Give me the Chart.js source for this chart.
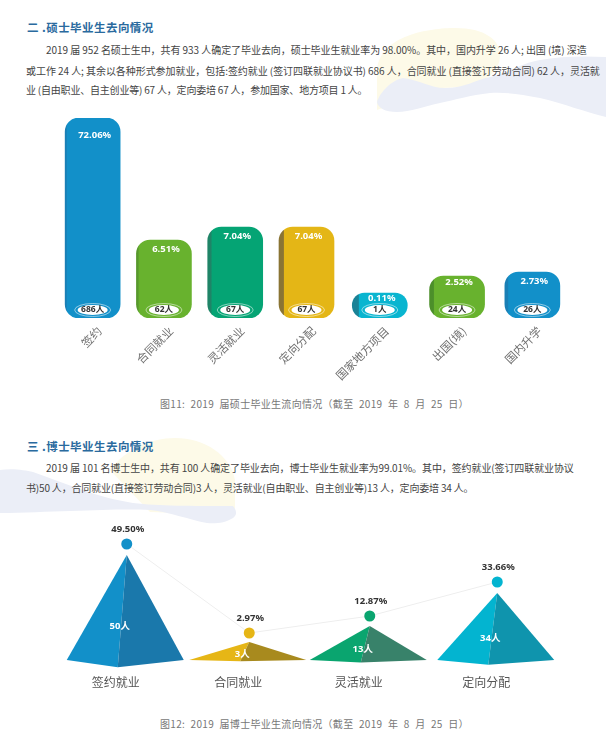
<!DOCTYPE html>
<html lang="zh">
<head>
<meta charset="utf-8">
<title>毕业生去向情况</title>
<script src="https://cdn.jsdelivr.net/npm/chart.js@4/dist/chart.umd.js"></script>
<style>
  html, body { margin: 0; padding: 0; background: #fff; }
  #page { position: relative; width: 606px; height: 749px; overflow: hidden;
          font-family: "Noto Sans CJK SC", "Noto Sans", sans-serif; }
  #page svg { position: absolute; left: 0; top: 0; }
  .t { position: absolute; white-space: nowrap; line-height: 20px; }
  .h { left: 27px; font-size: 11.5px; font-weight: 700; color: #2a6a9e; letter-spacing: .45px; }
  .p { font-size: 10px; color: #444; }
  .c { left: 160px; font-size: 10px; color: #777; letter-spacing: .3px; word-spacing: 3px; }
  canvas { position: absolute; left: 0; }
</style>
</head>
<body>
<div id="page">
  <svg width="606" height="749">
    <path d="M377 70 C380 35 430 28 455 28 C485 28 500 40 500 55 C500 75 480 88 440 88 L377 110 Z" fill="#fdfae8"/>
    <path d="M377 102 C380 92 392 80 403 78 C420 80 430 88 445 88 C465 88 475 80 490 77 C510 72 525 62 540 60 C560 56 585 56 606 57 L606 117 C585 112 565 104 540 98 C520 94 505 92 490 93 C470 95 455 100 440 103 C425 106 410 112 397 112 C385 112 378 108 377 102 Z" fill="#ebeef7"/>
    <path d="M110 470 C125 450 150 438 175 438 C205 438 230 455 235 480 L235 515 L150 512 Z" fill="#fdfae8"/>
    <path d="M0 470 C12 468 25 470 33 472 C50 478 65 484 83 490 C100 496 115 500 133 503 C160 506 190 506 233 506 C238 512 236 516 233 518 C225 523 215 524 207 523 C190 520 170 512 150 510 C120 508 60 512 0 513 Z" fill="#ebeef7"/>
  </svg>

  <div class="t h" style="top:17px">二 .硕士毕业生去向情况</div>
  <div class="t p" style="left:46px;top:40px;letter-spacing:-.06px">2019 届 952 名硕士生中，共有 933 人确定了毕业去向，硕士毕业生就业率为 98.00%。其中，国内升学 26 人; 出国 (境) 深造</div>
  <div class="t p" style="left:26px;top:61px;letter-spacing:-.06px">或工作 24 人; 其余以各种形式参加就业，包括:签约就业 (签订四联就业协议书) 686 人，合同就业 (直接签订劳动合同) 62 人，灵活就</div>
  <div class="t p" style="left:26px;top:80px;letter-spacing:-.2px">业 (自由职业、自主创业等) 67 人，定向委培 67 人，参加国家、地方项目 1 人。</div>
  <div class="t c" style="top:394px">图11:  2019 届硕士毕业生流向情况（截至 2019 年 8 月 25 日）</div>

  <div class="t h" style="top:436px">三 .博士毕业生去向情况</div>
  <div class="t p" style="left:46px;top:458px;letter-spacing:-.1px">2019 届 101 名博士生中，共有 100 人确定了毕业去向，博士毕业生就业率为99.01%。其中，签约就业(签订四联就业协议</div>
  <div class="t p" style="left:26px;top:478px;letter-spacing:-.17px">书)50 人，合同就业(直接签订劳动合同)3 人，灵活就业(自由职业、自主创业等)13 人，定向委培 34 人。</div>
  <div class="t c" style="top:714px">图12:  2019 届博士毕业生流向情况（截至 2019 年 8 月 25 日）</div>

  <canvas id="masterChart" width="606" height="280" style="top:110px"></canvas>
  <canvas id="phdChart" width="606" height="190" style="top:520px"></canvas>
</div>

<script>
// 硕士
const masterLabels = ['签约', '合同就业', '灵活就业', '定向分配', '国家地方项目', '出国(境)', '国内升学'];
const masterCounts = ['686人', '62人', '67人', '67人', '1人', '24人', '26人'];
const masterShares = ['72.06%', '6.51%', '7.04%', '7.04%', '0.11%', '2.52%', '2.73%'];
// the original bars are not to scale, so this is the height read off the picture
const masterBarHeights = [200, 78, 91, 91, 25, 42, 46];
const masterColors = ['#1290c9', '#68b22e', '#05a474', '#e4b616', '#09b5d0', '#68b22e', '#1290c9'];
const masterEdges = ['#1a7fb5', '#57982c', '#1f8467', '#8a7434', '#1a8296', '#4c8f2a', '#1a7fb5'];

// 博士
const phdLabels = ['签约就业', '合同就业', '灵活就业', '定向分配'];
const phdCounts = ['50人', '3人', '13人', '34人'];
const phdShares = ['49.50%', '2.97%', '12.87%', '33.66%'];
// same here, dot and pyramid heights as drawn
const phdDotHeights = [116, 27, 44, 78];
const phdPyramidHeights = [105, 18, 34, 67];
const phdColors = ['#1290c9', '#e6b616', '#0aa56f', '#03b4d0'];
const phdShades = ['#1a78ab', '#a88a1e', '#38826a', '#0f94ad'];

const LATIN = '"Noto Sans", "Noto Sans CJK SC", sans-serif';

// category axis whose slots can be moved a little, the original spacing is uneven
class NudgedCategory extends Chart.CategoryScale {
    getPixelForValue(value, index) {
        const px = super.getPixelForValue(value, index);
        const nudge = this.options.nudge || [];
        return px + (nudge[Math.round(value)] || 0);
    }
}
NudgedCategory.id = 'nudgedCategory';
NudgedCategory.defaults = Chart.CategoryScale.defaults;
Chart.register(NudgedCategory);

function drawText(c, text, x, y, font, color) {
    c.font = font;
    c.fillStyle = color;
    c.textAlign = 'center';
    c.textBaseline = 'middle';
    c.fillText(text, x, y);
}

const masterLabelsPlugin = {
    id: 'masterLabelsPlugin',
    afterDatasetsDraw(chart) {
        const c = chart.ctx;
        const bars = chart.getDatasetMeta(0).data;
        const drop = chart.options.plugins.masterLabelsPlugin.shareDrop;
        c.save();
        bars.forEach((bar, i) => {
            drawText(c, masterShares[i], bar.x + 2, bar.y + drop[i], 'bold 9.5px ' + LATIN, '#fff');
            const py = bar.base - 8;
            c.strokeStyle = 'rgba(255,255,255,.75)';
            c.lineWidth = 0.7;
            c.beginPath();
            c.ellipse(bar.x, py, 18, 6.5, 0, 0, Math.PI * 2);
            c.stroke();
            c.fillStyle = '#fff';
            c.beginPath();
            c.ellipse(bar.x, py, 15, 5, 0, 0, Math.PI * 2);
            c.fill();
            drawText(c, masterCounts[i], bar.x, py, 'bold 8.5px ' + LATIN, '#333');
        });
        c.restore();
    }
};

const pyramidPlugin = {
    id: 'pyramidPlugin',
    beforeDatasetsDraw(chart) {
        const c = chart.ctx;
        const xs = chart.scales.x;
        const ys = chart.scales.y;
        c.save();
        phdPyramidHeights.forEach((h, i) => {
            const x = xs.getPixelForValue(i);
            const top = ys.getPixelForValue(h);
            const base = ys.getPixelForValue(0);
            const frontY = base + h * 0.07;
            c.fillStyle = phdColors[i];
            c.beginPath();
            c.moveTo(x, top);
            c.lineTo(x - 60, base);
            c.lineTo(x - 9, frontY);
            c.closePath();
            c.fill();
            c.fillStyle = phdShades[i];
            c.beginPath();
            c.moveTo(x, top);
            c.lineTo(x - 9, frontY);
            c.lineTo(x + 57, base);
            c.closePath();
            c.fill();
        });
        c.restore();
    },
    afterDatasetsDraw(chart) {
        const c = chart.ctx;
        const ys = chart.scales.y;
        const pts = chart.getDatasetMeta(0).data;
        c.save();
        pts.forEach((pt, i) => {
            drawText(c, phdShares[i], pt.x + 1, pt.y - 15, 'bold 9.5px ' + LATIN, '#333');
            const h = phdPyramidHeights[i];
            drawText(c, phdCounts[i], pt.x - 7, ys.getPixelForValue(h * 0.32), 'bold 9.5px ' + LATIN, '#fff');
        });
        c.restore();
    }
};

const edgeShare = [0.02, 0.03, 0.06, 0.08, 0.11, 0.07, 0.05];

new Chart(document.getElementById('masterChart'), {
    type: 'bar',
    data: {
        labels: masterLabels,
        datasets: [{
            data: masterBarHeights,
            barThickness: 55,
            borderRadius: 14,
            borderSkipped: false,
            backgroundColor(ctx) {
                const i = ctx.dataIndex;
                if (!ctx.chart.chartArea || i === undefined) return masterColors[i] || '#1290c9';
                const x = ctx.chart.scales.x.getPixelForValue(i) - 27.5;
                const g = ctx.chart.ctx.createLinearGradient(x, 0, x + 55, 0);
                g.addColorStop(0, masterEdges[i]);
                g.addColorStop(edgeShare[i], masterEdges[i]);
                g.addColorStop(edgeShare[i] + 0.02, masterColors[i]);
                g.addColorStop(1, masterColors[i]);
                return g;
            }
        }]
    },
    options: {
        responsive: false,
        animation: false,
        layout: { padding: { left: 56, right: 37, top: 8, bottom: 0 } },
        plugins: {
            legend: { display: false },
            tooltip: { enabled: false },
            masterLabelsPlugin: { shareDrop: [17, 9, 9, 9, 5, 6, 9] }
        },
        scales: {
            x: {
                type: 'nudgedCategory',
                nudge: [0, -2, -4, -6, -6, -2, 0],
                grid: { display: false, drawTicks: false },
                border: { display: false },
                afterFit(scale) { scale.height = 72; },
                ticks: {
                    minRotation: 45,
                    maxRotation: 45,
                    autoSkip: false,
                    padding: 6,
                    labelOffset: 7,
                    color: '#707070',
                    font: { family: '"Noto Sans CJK SC"', size: 11.5 }
                }
            },
            y: { display: false, min: 0, max: 200 }
        }
    },
    plugins: [masterLabelsPlugin]
});

new Chart(document.getElementById('phdChart'), {
    type: 'line',
    data: {
        labels: phdLabels,
        datasets: [{
            data: phdDotHeights,
            borderColor: '#eeeeee',
            borderWidth: 1,
            tension: 0,
            pointRadius: 5.5,
            pointBorderWidth: 0,
            pointBackgroundColor: phdColors
        }]
    },
    options: {
        responsive: false,
        animation: false,
        layout: { padding: { left: 65, right: 47, top: 10, bottom: 0 } },
        plugins: { legend: { display: false }, tooltip: { enabled: false } },
        scales: {
            x: {
                type: 'nudgedCategory',
                offset: true,
                nudge: [0, -1, -4, 0],
                grid: { display: false, drawTicks: false },
                border: { display: false },
                afterFit(scale) { scale.height = 50; },
                ticks: {
                    maxRotation: 0,
                    padding: 15,
                    labelOffset: -11,
                    color: '#555',
                    font: { family: '"Noto Sans CJK SC"', size: 12 }
                }
            },
            y: { display: false, min: 0, max: 130 }
        }
    },
    plugins: [pyramidPlugin]
});
</script>
</body>
</html>
